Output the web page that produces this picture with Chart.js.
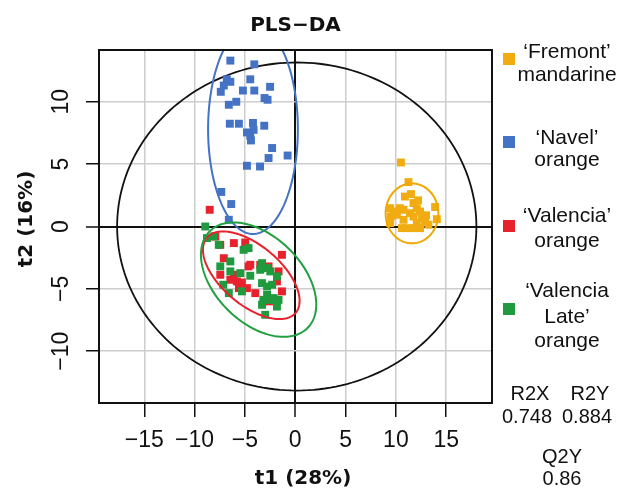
<!DOCTYPE html>
<html><head><meta charset="utf-8">
<script src="https://cdn.jsdelivr.net/npm/chart.js@4.4.1/dist/chart.umd.min.js"></script>
<style>html,body{margin:0;padding:0;background:#fff}#wrap{width:619px;height:488px}</style>
</head><body><div id="wrap"><canvas id="c" width="619" height="488"></canvas></div>
<script>
// ---- data ----
const xTicks = [-15, -10, -5, 0, 5, 10, 15];
const yTicks = [-10, -5, 0, 5, 10];

const fremontX = [10.5, 11.25, 11.5, 13.9, 14.07, 9.43, 9.5, 10.4, 10.76, 11.75, 12.08, 12.4, 11.4, 11.75, 12.6, 12.9, 13.24, 10.76, 10.1, 9.77, 10.6, 11.1, 11.75, 12.4, 12.08, 9.43, 10.9, 12.2, 13.0];
const fremontY = [5.13, 3.56, 2.6, 1.56, 0.59, 1.47, 0.8, 1.47, 1.34, 1.88, 1.47, 1.2, 1.07, 0.8, 0.67, 0.4, 0.14, 0.54, 0.94, 1.2, -0.13, -0.13, -0.13, -0.13, 0.27, 0.27, 2.4, 2.1, 0.9];

const navelX = [-6.45, -4.07, -4.47, -6.8, -6.45, -7.1, -7.4, -5.2, -4.07, -2.5, -3.05, -2.75, -5.86, -6.6, -6.5, -5.6, -4.2, -3.08, -4.8, -4.14, -4.47, -4.4, -2.3, -2.65, -0.76, -4.8, -3.5, -7.35, -6.36, -6.6];
const navelY = [13.3, 13.0, 11.8, 11.8, 11.6, 11.3, 10.8, 10.9, 10.9, 11.2, 10.3, 10.16, 10.0, 9.76, 8.24, 8.24, 8.3, 8.08, 7.54, 7.75, 7.27, 6.9, 6.29, 5.49, 5.69, 4.87, 4.81, 2.77, 1.8, 0.54];

const valenciaX = [-8.5, -6.1, -7.45, -4.97, -1.32, -7.1, -4.47, -4.64, -3.48, -6.45, -5.8, -5.3, -7.45, -2.65, -1.82, -3.97, -3.15, -4.8, -6.1, -5.6, -1.66, -2.48, -7.94, -1.32];
const valenciaY = [1.34, -1.33, -1.47, -1.28, -2.27, -2.54, -3.07, -3.2, -3.07, -4.27, -4.4, -4.49, -3.87, -3.2, -4.4, -5.34, -6.0, -4.94, -3.87, -4.94, -3.6, -6.0, -0.8, -5.2];

const lateX = [-8.94, -8.77, -8.1, -7.6, -5.13, -4.64, -6.45, -7.45, -3.3, -2.8, -3.48, -2.48, -6.45, -5.46, -4.47, -1.82, -7.15, -3.3, -2.8, -2.3, -5.3, -6.6, -2.8, -2.15, -1.66, -2.48, -3.15, -1.82, -3.3, -2.98, -2.0];
const lateY = [0.0, -0.93, -0.8, -1.47, -1.87, -1.73, -2.8, -3.2, -2.94, -3.34, -3.47, -3.6, -3.6, -3.74, -3.95, -4.0, -4.67, -4.54, -4.81, -4.67, -5.2, -5.34, -5.48, -5.74, -5.88, -5.88, -5.88, -6.42, -6.28, -7.08, -5.88];

// ellipses: [centerX, centerY, axisA_x, axisA_y, axisB_x, axisB_y] in data units
const hotellingEllipse = [0.15, 0, 17.85, 0, 0, 13.15];
const fremontEllipse = [11.6, 1.05, 2.62, 0, 0, 2.4];
const navelEllipse = [-4.2, 7.8, 4.46, 0, 0, 8.4];
const valenciaEllipse = [-4.37, -3.91, 4.41, -3.01, -1.90, -1.81];
const lateEllipse = [-3.64, -4.26, 4.88, -3.86, -3.00, -2.475];

const groupLabels = [["\u2018Fremont\u2019", "mandarine"], ["\u2018Navel\u2019", "orange"], ["\u2018Valencia\u2019", "orange"], ["\u2018Valencia", "Late\u2019", "orange"]];
const statNames = ["R2X", "R2Y", "Q2Y"];
const statValues = ["0.748", "0.884", "0.86"];
const chartTitle = "PLS\u2212DA";
const xTitle = "t1 (28%)";
const yTitle = "t2 (16%)";

// ---- styles ----
const cOrange = '#F1AC12', cBlue = '#4472C4', cRed = '#E8222C', cGreen = '#1F9A3E';
const toPts = (xs, ys) => xs.map((x, i) => ({x: x, y: ys[i]}));

function ellipsePath(ctx, xs, ys, e) {
  const [cx, cy, ax, ay, bx, by] = e;
  ctx.beginPath();
  for (let i = 0; i <= 200; i++) {
    const t = i / 200 * 2 * Math.PI;
    const px = xs.getPixelForValue(cx + ax * Math.cos(t) + bx * Math.sin(t));
    const py = ys.getPixelForValue(cy + ay * Math.cos(t) + by * Math.sin(t));
    if (i === 0) ctx.moveTo(px, py); else ctx.lineTo(px, py);
  }
  ctx.closePath();
}

const deco = {
  id: 'deco',
  beforeDatasetsDraw(chart) {
    const {ctx, chartArea: a, scales: {x, y}} = chart;
    ctx.save();
    ctx.beginPath(); ctx.rect(a.left, a.top, a.right - a.left, a.bottom - a.top); ctx.clip();
    ctx.strokeStyle = '#111'; ctx.lineWidth = 1.8;
    ellipsePath(ctx, x, y, hotellingEllipse); ctx.stroke();
    ctx.restore();
  },
  afterDatasetsDraw(chart) {
    const {ctx, chartArea: a, scales: {x, y}} = chart;
    ctx.save();
    ctx.beginPath(); ctx.rect(a.left, a.top, a.right - a.left, a.bottom - a.top); ctx.clip();
    ctx.lineWidth = 2;
    [[fremontEllipse, '#F0A800'], [navelEllipse, cBlue], [valenciaEllipse, cRed], [lateEllipse, '#20A040']].forEach(([e, c]) => {
      ctx.strokeStyle = c; ellipsePath(ctx, x, y, e); ctx.stroke();
    });
    ctx.restore();
  },
  afterDraw(chart) {
    const {ctx, chartArea: a} = chart;
    ctx.save();
    ctx.strokeStyle = '#111'; ctx.lineWidth = 2;
    ctx.strokeRect(a.left, a.top, a.right - a.left, a.bottom - a.top);
    ctx.fillStyle = '#111';
    // title
    ctx.font = 'bold 20px "DejaVu Sans"';
    ctx.textAlign = 'center'; ctx.textBaseline = 'alphabetic';
    ctx.fillText(chartTitle, (a.left + a.right) / 2, 31);
    // axis titles
    ctx.font = 'bold 20px "DejaVu Sans"';
    ctx.fillText(xTitle, 303, 484);
    ctx.save(); ctx.translate(32, 219); ctx.rotate(-Math.PI / 2); ctx.fillText(yTitle, 0, 0); ctx.restore();
    // legend
    const sqY = [59, 142, 226, 309];
    const base = [[58, 81], [144, 166], [222, 247], [297, 323, 347]];
    const cols = [cOrange, cBlue, cRed, cGreen];
    ctx.font = '21px "Liberation Sans"';
    groupLabels.forEach((lines, i) => {
      ctx.fillStyle = cols[i];
      ctx.fillRect(503, sqY[i] - 6, 12, 12);
      ctx.fillStyle = '#111';
      lines.forEach((t, j) => ctx.fillText(t, 567, base[i][j]));
    });
    // stats
    ctx.font = '20px "Liberation Sans"';
    ctx.fillText(statNames[0], 530, 400); ctx.fillText(statNames[1], 590, 400);
    ctx.fillText(statValues[0], 527, 423); ctx.fillText(statValues[1], 587, 423);
    ctx.fillText(statNames[2], 562, 463); ctx.fillText(statValues[2], 562, 485);
    ctx.restore();
  }
};

const fmt = v => v < 0 ? '\u2212' + Math.abs(v) : String(v);
const gridColor = c => (c.tick && c.tick.value === 0) ? '#111' : '#cdcdcd';
const gridWidth = c => (c.tick && c.tick.value === 0) ? 2 : 1.5;

new Chart(document.getElementById('c'), {
  type: 'scatter',
  data: {
    datasets: [
      {label: 'Valencia Late', data: toPts(lateX, lateY), backgroundColor: cGreen},
      {label: 'Valencia', data: toPts(valenciaX, valenciaY), backgroundColor: cRed},
      {label: 'Navel', data: toPts(navelX, navelY), backgroundColor: cBlue},
      {label: 'Fremont', data: toPts(fremontX, fremontY), backgroundColor: cOrange}
    ].map(d => Object.assign(d, {pointStyle: 'rect', pointRadius: 5.6, pointHoverRadius: 5.6, borderWidth: 0}))
  },
  options: {
    responsive: false, animation: false, devicePixelRatio: 1,
    layout: {padding: {left: 0, top: 50, right: 127, bottom: 0}},
    plugins: {legend: {display: false}, tooltip: {enabled: false}, title: {display: false}},
    scales: {
      x: {
        type: 'linear', min: -19.5, max: 19.55,
        afterBuildTicks: s => { s.ticks = xTicks.map(v => ({value: v})); },
        afterFit: s => { s.height = 85; },
        grid: {color: gridColor, lineWidth: gridWidth, tickColor: '#111', tickLength: 14, tickWidth: 1.5},
        border: {display: false},
        ticks: {callback: fmt, color: '#111', font: {family: 'Liberation Sans', size: 23}, padding: 10, maxRotation: 0, autoSkip: false}
      },
      y: {
        type: 'linear', min: -14.15, max: 14.15,
        afterBuildTicks: s => { s.ticks = yTicks.map(v => ({value: v})); },
        afterFit: s => { s.width = 99; },
        grid: {color: gridColor, lineWidth: gridWidth, tickColor: '#111', tickLength: 13, tickWidth: 1.5},
        border: {display: false},
        ticks: {callback: fmt, color: '#111', font: {family: 'Liberation Sans', size: 23}, padding: 5, minRotation: 90, maxRotation: 90, crossAlign: 'center', autoSkip: false}
      }
    }
  },
  plugins: [deco]
});
</script></body></html>
